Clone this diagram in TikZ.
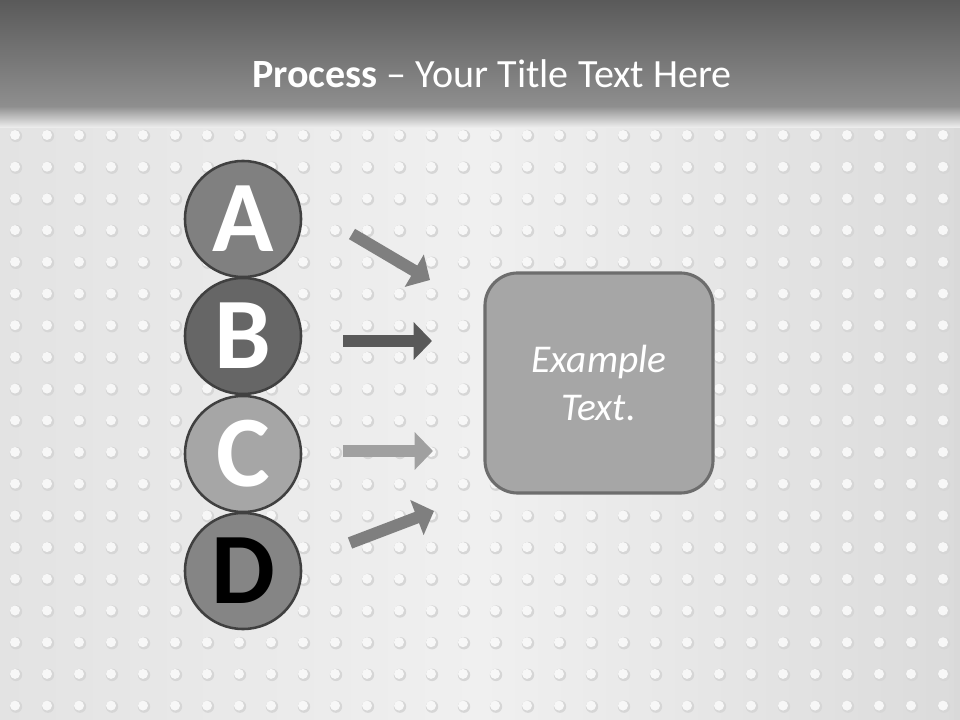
\documentclass[tikz,border=0pt]{standalone}
\usepackage{fontspec}
\setmainfont{Carlito}
\usetikzlibrary{arrows.meta}

\definecolor{barTop}{HTML}{5A5A5A}
\definecolor{barBottom}{HTML}{8E8E8E}
\definecolor{paperA}{HTML}{E3E3E3}
\definecolor{paperB}{HTML}{F0F0F0}
\definecolor{paperC}{HTML}{DBDBDB}
\definecolor{ringLine}{HTML}{404040}
\definecolor{fillA}{HTML}{808080}
\definecolor{fillB}{HTML}{666666}
\definecolor{fillC}{HTML}{A6A6A6}
\definecolor{fillD}{HTML}{858585}
\definecolor{arrowA}{HTML}{7F7F7F}
\definecolor{arrowB}{HTML}{595959}
\definecolor{arrowC}{HTML}{A0A0A0}
\definecolor{arrowD}{HTML}{7F7F7F}
\definecolor{boxFill}{HTML}{A6A6A6}
\definecolor{boxLine}{HTML}{6D6D6D}

\begin{document}
\begin{tikzpicture}[x=0.025cm, y=-0.025cm,
		letter/.style={circle, draw=ringLine, line width=1.8pt, minimum size=2.9cm, inner sep=0pt,
			font=\fontsize{72}{72}\selectfont\bfseries, text=white},
		flow/.style={line width=8.5pt, -{Triangle[length=13pt, width=26pt]}},
		bumpshade/.style={fill=gray!32},
		bumplight/.style={fill=white!94!gray}]
	\useasboundingbox (0,0) rectangle (960,720);
	
	% 背景
	\shade[left color=paperA, right color=paperC, middle color=paperB] (0,110) rectangle (960,720);
	\shade[top color=barBottom, bottom color=paperB] (0,106) rectangle (960,128);
	\shade[top color=barTop, bottom color=barBottom] (0,0) rectangle (960,106);
	\fill[gray!30, opacity=0.6] (954,128) rectangle (960,720);
	
	% 圆点
	\foreach \r in {0,...,18}
		\foreach \c in {0,...,29} {
			\fill[bumpshade] ({16+32*\c}, {136+31.7*\r}) circle (6.2);
			\fill[bumplight] ({15+32*\c}, {135+31.7*\r}) circle (5);
		}
	
	% 标题
	\node[anchor=base, text=white, font=\fontsize{28.5}{30}\selectfont] (title) at (492,88)
		{\textbf{Process} -- Your Title Text Here};
	
	% 字母圆
	\node[letter, fill=fillA] (a) at (243,219) {A};
	\node[letter, fill=fillB] (b) at (243,336) {B};
	\node[letter, fill=fillC] (c) at (243,454) {C};
	\node[letter, fill=fillD, text=black] (d) at (243,571) {D};
	
	% 文本框
	\node[draw=boxLine, line width=2.2pt, fill=boxFill, rounded corners=0.82cm,
		minimum width=5.7cm, minimum height=5.5cm, align=center, text=white,
		font=\fontsize{28}{33.5}\selectfont\itshape] (box) at (599,383) {Example\\Text.};
	
	% 箭头
	\coordinate (a1) at (352,234); \coordinate (a2) at (430,280);
	\coordinate (b1) at (343,341); \coordinate (b2) at (432,341);
	\coordinate (c1) at (343,451); \coordinate (c2) at (433,451);
	\coordinate (d1) at (350,543); \coordinate (d2) at (434,511);
	\draw[flow, arrowA] (a1) -- (a2);
	\draw[flow, arrowB] (b1) -- (b2);
	\draw[flow, arrowC] (c1) -- (c2);
	\draw[flow, arrowD] (d1) -- (d2);
\end{tikzpicture}
\end{document}
